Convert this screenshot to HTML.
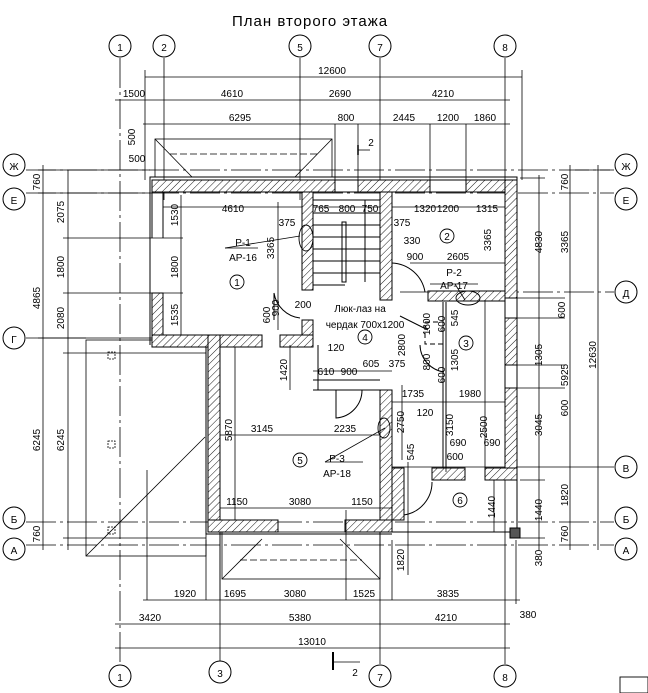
<!DOCTYPE html>
<html><head><meta charset="utf-8"><style>
html,body{margin:0;padding:0;background:#fff;}
svg{display:block;}
text{font-family:"Liberation Sans",sans-serif;font-size:10px;fill:#000;}
</style></head><body>
<svg width="648" height="693" viewBox="0 0 648 693" xmlns="http://www.w3.org/2000/svg">
<defs>
<pattern id="h" patternUnits="userSpaceOnUse" width="5" height="5" patternTransform="rotate(45)">
<rect width="5" height="5" fill="#fff"/><line x1="0" y1="0" x2="0" y2="5" stroke="#000" stroke-width="0.9"/>
</pattern>
</defs>
<text x="232" y="26" style="font-size:15px;letter-spacing:1px">План второго этажа</text>

<g stroke="#000" stroke-width="0.8" fill="none">
<line x1="120" y1="58" x2="120" y2="664" stroke-dasharray="30,4,3,4"/>
<line x1="164" y1="58" x2="164" y2="200"/>
<line x1="300" y1="58" x2="300" y2="200"/>
<line x1="380" y1="58" x2="380" y2="200"/>
<line x1="505" y1="58" x2="505" y2="664"/>
<line x1="220" y1="520" x2="220" y2="664"/>
<line x1="380" y1="520" x2="380" y2="664"/>
<line x1="26" y1="170" x2="614" y2="170" stroke-dasharray="30,4,3,4"/>
<line x1="26" y1="193" x2="614" y2="193" stroke-dasharray="30,4,3,4"/>
<line x1="400" y1="292" x2="614" y2="292" stroke-dasharray="30,4,3,4"/>
<line x1="26" y1="338" x2="160" y2="338"/>
<line x1="380" y1="467" x2="614" y2="467"/>
<line x1="26" y1="522" x2="614" y2="522" stroke-dasharray="30,4,3,4"/>
<line x1="26" y1="545" x2="614" y2="545" stroke-dasharray="30,4,3,4"/>
</g>
<g stroke="#000" stroke-width="1" fill="#fff">
<circle cx="120" cy="46" r="11"/><circle cx="164" cy="46" r="11"/><circle cx="300" cy="46" r="11"/><circle cx="380" cy="46" r="11"/><circle cx="505" cy="46" r="11"/>
<circle cx="120" cy="676" r="11"/><circle cx="220" cy="672" r="11"/><circle cx="380" cy="676" r="11"/><circle cx="505" cy="676" r="11"/>
<circle cx="14" cy="165" r="11"/><circle cx="14" cy="199" r="11"/><circle cx="14" cy="338" r="11"/><circle cx="14" cy="518" r="11"/><circle cx="14" cy="549" r="11"/>
<circle cx="626" cy="165" r="11"/><circle cx="626" cy="199" r="11"/><circle cx="626" cy="292" r="11"/><circle cx="626" cy="467" r="11"/><circle cx="626" cy="518" r="11"/><circle cx="626" cy="549" r="11"/>
</g>
<g style="font-size:13px" text-anchor="middle">
<text x="120" y="51">1</text><text x="164" y="51">2</text><text x="300" y="51">5</text><text x="380" y="51">7</text><text x="505" y="51">8</text>
<text x="120" y="681">1</text><text x="220" y="677">3</text><text x="380" y="681">7</text><text x="505" y="681">8</text>
<text x="14" y="170">Ж</text><text x="14" y="204">Е</text><text x="14" y="343">Г</text><text x="14" y="523">Б</text><text x="14" y="554">А</text>
<text x="626" y="170">Ж</text><text x="626" y="204">Е</text><text x="626" y="297">Д</text><text x="626" y="472">В</text><text x="626" y="523">Б</text><text x="626" y="554">А</text>
</g>

<g stroke="#000" stroke-width="0.8" fill="none">
<rect x="155" y="139" width="177" height="38"/>
<line x1="170" y1="154" x2="318" y2="154" stroke-dasharray="7,3"/>
<line x1="155" y1="139" x2="192" y2="177"/><line x1="332" y1="139" x2="295" y2="177"/>
<rect x="86" y="340" width="120" height="216"/>
<line x1="86" y1="556" x2="205" y2="437"/>
<rect x="108" y="352" width="7" height="7" stroke-dasharray="2,1"/>
<rect x="108" y="441" width="7" height="7" stroke-dasharray="2,1"/>
<rect x="108" y="527" width="7" height="7" stroke-dasharray="2,1"/>
<rect x="222" y="532" width="158" height="47"/>
<line x1="240" y1="560" x2="362" y2="560" stroke-dasharray="7,3"/>
<line x1="222" y1="579" x2="262" y2="539"/><line x1="380" y1="579" x2="340" y2="539"/>
<line x1="220" y1="532" x2="220" y2="600"/>
</g>

<g stroke="#000" stroke-width="1" fill="none">
<polyline points="150,345 150,177 517,177 517,532 392,532"/>
<polyline points="208,338 206,338 206,534 392,534"/>
</g>
<g stroke="#000" stroke-width="1" fill="url(#h)">
<rect x="152" y="180" width="183" height="12"/>
<rect x="358" y="180" width="72" height="12"/>
<rect x="466" y="180" width="51" height="12"/>
<rect x="505" y="180" width="12" height="118"/>
<rect x="505" y="318" width="12" height="47"/>
<rect x="505" y="388" width="12" height="92"/>
<rect x="152" y="293" width="11" height="52"/>
<rect x="152" y="335" width="110" height="12"/>
<rect x="208" y="335" width="12" height="197"/>
<rect x="208" y="520" width="70" height="12"/>
<rect x="345" y="520" width="47" height="12"/>
<rect x="302" y="192" width="11" height="98"/>
<rect x="302" y="320" width="11" height="27"/>
<rect x="280" y="335" width="33" height="12"/>
<rect x="380" y="192" width="12" height="108"/>
<rect x="428" y="291" width="77" height="10"/>
<rect x="380" y="390" width="12" height="130"/>
<rect x="392" y="468" width="12" height="52"/>
<rect x="432" y="468" width="33" height="12"/>
<rect x="485" y="468" width="32" height="12"/>
</g>
<g stroke="#000" stroke-width="1" fill="none">
<line x1="152" y1="180" x2="152" y2="238"/><line x1="163" y1="192" x2="163" y2="238"/>
<line x1="335" y1="180" x2="358" y2="180"/><line x1="335" y1="192" x2="358" y2="192"/>
<line x1="430" y1="180" x2="466" y2="180"/><line x1="430" y1="192" x2="466" y2="192"/>
<line x1="443" y1="302" x2="443" y2="468"/><line x1="446" y1="302" x2="446" y2="468"/>
<line x1="313" y1="380" x2="380" y2="380"/><line x1="313" y1="390" x2="380" y2="390"/>
<line x1="318" y1="390" x2="318" y2="345"/>
<line x1="313" y1="200" x2="380" y2="200"/>
<line x1="313" y1="213" x2="380" y2="213"/><line x1="313" y1="225" x2="380" y2="225"/>
<line x1="313" y1="237" x2="380" y2="237"/><line x1="313" y1="249" x2="380" y2="249"/>
<line x1="313" y1="261" x2="380" y2="261"/><line x1="313" y1="273" x2="380" y2="273"/>
<line x1="313" y1="285" x2="345" y2="285"/>
<rect x="342" y="222" width="4" height="60"/>
<line x1="365" y1="200" x2="365" y2="282"/>
<path d="M274 293 A 30 30 0 0 0 300 318"/><line x1="274" y1="293" x2="274" y2="320"/>
<path d="M392 263 A 35 35 0 0 1 425 292"/>
<path d="M420 345 A 28 28 0 0 0 444 372"/>
<path d="M336 390 L336 418 A 28 28 0 0 0 362 390"/>
<path d="M404 482 L404 515 A 33 33 0 0 0 432 482"/>
<rect x="425" y="322" width="18" height="22" stroke-dasharray="5,3"/>
<line x1="400" y1="316" x2="428" y2="330"/>
<rect x="510" y="528" width="10" height="10" fill="#555"/>
<rect x="505" y="298" width="12" height="20"/>
<rect x="505" y="365" width="12" height="23"/>
</g>
<g stroke="#000" stroke-width="0.8" fill="none">
<line x1="145" y1="77" x2="522" y2="77"/>
<line x1="115" y1="100" x2="510" y2="100"/>
<line x1="143" y1="124" x2="510" y2="124"/>
<line x1="145" y1="70" x2="145" y2="180"/><line x1="522" y1="70" x2="522" y2="180"/>
<line x1="335" y1="124" x2="335" y2="180"/><line x1="358" y1="124" x2="358" y2="180"/>
<line x1="430" y1="124" x2="430" y2="180"/><line x1="466" y1="124" x2="466" y2="180"/>
<line x1="358" y1="150" x2="370" y2="150"/><line x1="358" y1="145" x2="358" y2="155" stroke-width="1.5"/>
<line x1="43" y1="165" x2="43" y2="550"/>
<line x1="68" y1="170" x2="68" y2="550"/>
<line x1="38" y1="170" x2="150" y2="170"/>
<line x1="38" y1="193" x2="150" y2="193"/>
<line x1="63" y1="238" x2="183" y2="238"/>
<line x1="63" y1="293" x2="183" y2="293"/>
<line x1="38" y1="338" x2="86" y2="338"/>
<line x1="63" y1="353" x2="206" y2="353"/>
<line x1="63" y1="538" x2="206" y2="538"/>
<line x1="181" y1="195" x2="181" y2="335"/>
<line x1="539" y1="175" x2="539" y2="550"/>
<line x1="570" y1="165" x2="570" y2="550"/>
<line x1="598" y1="165" x2="598" y2="550"/>
<line x1="575" y1="170" x2="610" y2="170"/>
<line x1="520" y1="178" x2="545" y2="178"/>
<line x1="520" y1="480" x2="545" y2="480"/>
<line x1="520" y1="538" x2="545" y2="538"/>
<line x1="515" y1="298" x2="565" y2="298"/><line x1="515" y1="318" x2="565" y2="318"/>
<line x1="515" y1="365" x2="565" y2="365"/><line x1="515" y1="388" x2="565" y2="388"/>
<line x1="143" y1="600" x2="520" y2="600"/>
<line x1="115" y1="624" x2="510" y2="624"/>
<line x1="115" y1="648" x2="510" y2="648"/>
<line x1="147" y1="470" x2="147" y2="600"/>
<line x1="206" y1="540" x2="206" y2="600"/>
<line x1="346" y1="510" x2="346" y2="600"/>
<line x1="392" y1="540" x2="392" y2="600"/>
<line x1="516" y1="540" x2="516" y2="604"/>
<line x1="163" y1="207" x2="302" y2="207"/>
<line x1="313" y1="207" x2="380" y2="207"/>
<line x1="392" y1="207" x2="505" y2="207"/>
<line x1="410" y1="263" x2="505" y2="263"/>
<line x1="278" y1="202" x2="278" y2="330"/>
<line x1="220" y1="435" x2="380" y2="435"/>
<line x1="220" y1="508" x2="392" y2="508"/>
<line x1="235" y1="347" x2="235" y2="520"/>
<line x1="290" y1="345" x2="290" y2="390"/>
<line x1="313" y1="371" x2="392" y2="371"/>
<line x1="392" y1="402" x2="505" y2="402"/>
<line x1="402" y1="385" x2="402" y2="460"/>
<line x1="408" y1="462" x2="408" y2="575"/>
<line x1="446" y1="340" x2="446" y2="472"/>
<line x1="485" y1="300" x2="485" y2="468"/>
<line x1="494" y1="480" x2="494" y2="532"/>
<line x1="333" y1="652" x2="333" y2="670" stroke-width="2"/>
<line x1="333" y1="662" x2="360" y2="662"/>
<line x1="225" y1="248" x2="300" y2="236"/>
<line x1="455" y1="284" x2="465" y2="300"/>
<line x1="325" y1="462" x2="385" y2="428"/>
</g>
<g stroke="#000" stroke-width="0.8"><line x1="225" y1="248" x2="258" y2="248"/><line x1="430" y1="284" x2="478" y2="284"/><line x1="325" y1="462" x2="363" y2="462"/></g>
<g style="font-size:10px" text-anchor="middle">
<text x="332" y="74">12600</text>
<text x="134" y="97">1500</text><text x="232" y="97">4610</text><text x="340" y="97">2690</text><text x="443" y="97">4210</text>
<text x="240" y="121">6295</text><text x="346" y="121">800</text><text x="404" y="121">2445</text><text x="448" y="121">1200</text><text x="485" y="121">1860</text>
<text x="137" y="162">500</text>
<text x="233" y="212">4610</text><text x="321" y="212">765</text><text x="347" y="212">800</text><text x="370" y="212">750</text>
<text x="425" y="212">1320</text><text x="448" y="212">1200</text><text x="487" y="212">1315</text>
<text x="287" y="226">375</text><text x="402" y="226">375</text><text x="412" y="244">330</text>
<text x="415" y="260">900</text><text x="458" y="260">2605</text>
<text x="243" y="246">Р-1</text><text x="243" y="261">АР-16</text>
<text x="454" y="276">Р-2</text><text x="454" y="289">АР-17</text>
<text x="303" y="308">200</text>
<text x="360" y="312">Люк-лаз на</text><text x="365" y="328">чердак 700х1200</text>
<text x="336" y="351">120</text>
<text x="326" y="375">610</text><text x="349" y="375">900</text><text x="371" y="367">605</text><text x="397" y="367">375</text>
<text x="413" y="397">1735</text><text x="470" y="397">1980</text>
<text x="425" y="416">120</text>
<text x="262" y="432">3145</text><text x="345" y="432">2235</text>
<text x="337" y="462">Р-3</text><text x="337" y="477">АР-18</text>
<text x="458" y="446">690</text><text x="492" y="446">690</text><text x="455" y="460">600</text>
<text x="237" y="505">1150</text><text x="300" y="505">3080</text><text x="362" y="505">1150</text>
<text x="185" y="597">1920</text><text x="235" y="597">1695</text><text x="295" y="597">3080</text><text x="364" y="597">1525</text><text x="448" y="597">3835</text>
<text x="150" y="621">3420</text><text x="300" y="621">5380</text><text x="446" y="621">4210</text>
<text x="312" y="645">13010</text>
<text x="528" y="618">380</text>
<text x="371" y="146">2</text><text x="355" y="676">2</text>
</g>
<g style="font-size:10px" text-anchor="middle">
<text transform="translate(40,182) rotate(-90)">760</text>
<text transform="translate(64,212) rotate(-90)">2075</text>
<text transform="translate(40,298) rotate(-90)">4865</text>
<text transform="translate(64,267) rotate(-90)">1800</text>
<text transform="translate(64,318) rotate(-90)">2080</text>
<text transform="translate(40,440) rotate(-90)">6245</text>
<text transform="translate(64,440) rotate(-90)">6245</text>
<text transform="translate(40,534) rotate(-90)">760</text>
<text transform="translate(135,137) rotate(-90)">500</text>
<text transform="translate(178,215) rotate(-90)">1530</text>
<text transform="translate(178,267) rotate(-90)">1800</text>
<text transform="translate(178,315) rotate(-90)">1535</text>
<text transform="translate(274,248) rotate(-90)">3365</text>
<text transform="translate(270,315) rotate(-90)">600</text>
<text transform="translate(279,308) rotate(-90)">900</text>
<text transform="translate(287,370) rotate(-90)">1420</text>
<text transform="translate(232,430) rotate(-90)">5870</text>
<text transform="translate(405,345) rotate(-90)">2800</text>
<text transform="translate(404,422) rotate(-90)">2750</text>
<text transform="translate(414,452) rotate(-90)">545</text>
<text transform="translate(404,560) rotate(-90)">1820</text>
<text transform="translate(430,362) rotate(-90)">800</text>
<text transform="translate(430,324) rotate(-90)">1600</text>
<text transform="translate(445,324) rotate(-90)">600</text>
<text transform="translate(458,318) rotate(-90)">545</text>
<text transform="translate(445,375) rotate(-90)">600</text>
<text transform="translate(458,360) rotate(-90)">1305</text>
<text transform="translate(453,425) rotate(-90)">3150</text>
<text transform="translate(487,427) rotate(-90)">2500</text>
<text transform="translate(495,507) rotate(-90)">1440</text>
<text transform="translate(491,240) rotate(-90)">3365</text>
<text transform="translate(542,242) rotate(-90)">4830</text>
<text transform="translate(568,242) rotate(-90)">3365</text>
<text transform="translate(568,182) rotate(-90)">760</text>
<text transform="translate(565,310) rotate(-90)">600</text>
<text transform="translate(542,355) rotate(-90)">1305</text>
<text transform="translate(568,408) rotate(-90)">600</text>
<text transform="translate(568,375) rotate(-90)">5925</text>
<text transform="translate(596,355) rotate(-90)">12630</text>
<text transform="translate(542,425) rotate(-90)">3045</text>
<text transform="translate(568,495) rotate(-90)">1820</text>
<text transform="translate(542,510) rotate(-90)">1440</text>
<text transform="translate(568,534) rotate(-90)">760</text>
<text transform="translate(542,558) rotate(-90)">380</text>
</g>
<g stroke="#000" stroke-width="0.9" fill="#fff">
<circle cx="237" cy="282" r="7"/><circle cx="447" cy="236" r="7"/><circle cx="466" cy="343" r="7"/>
<circle cx="365" cy="337" r="7"/><circle cx="300" cy="460" r="7"/><circle cx="460" cy="500" r="7"/>
<ellipse cx="306" cy="238" rx="7" ry="13" fill="none"/><ellipse cx="468" cy="298" rx="12" ry="7" fill="none"/>
<ellipse cx="384" cy="428" rx="6" ry="10" fill="none"/>
<rect x="620" y="677" width="28" height="16"/>
</g>
<g style="font-size:10px" text-anchor="middle">
<text x="237" y="286">1</text><text x="447" y="240">2</text><text x="466" y="347">3</text><text x="365" y="341">4</text><text x="300" y="464">5</text><text x="460" y="504">6</text>
</g>
</svg>
</body></html>
